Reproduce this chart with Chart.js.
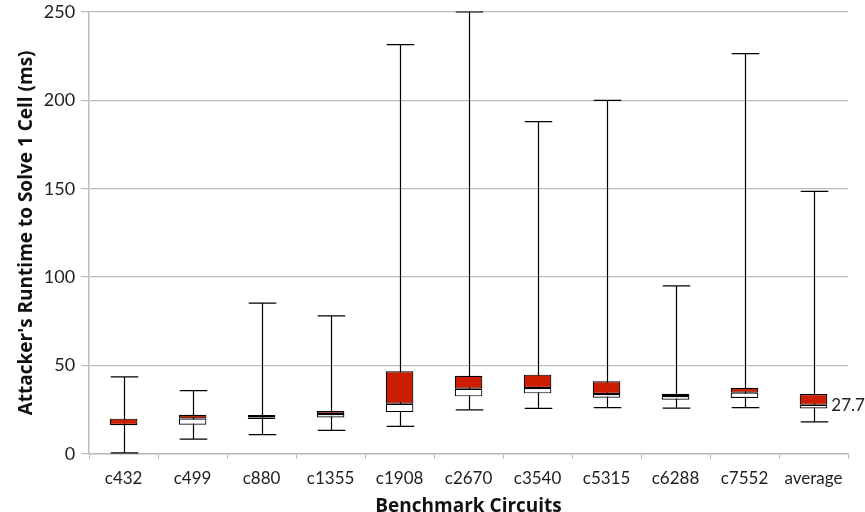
<!DOCTYPE html>
<html>
<head>
<meta charset="utf-8">
<script src="https://cdn.jsdelivr.net/npm/chart.js@4/dist/chart.umd.min.js"></script>
<style>
    body { margin: 0; background: #fff; }
    #wrap { width: 865px; height: 512px; }
</style>
</head>
<body>
<div id="wrap"><canvas id="chart"></canvas></div>
<script>
"use strict"

const circuits = ['c432', 'c499', 'c880', 'c1355', 'c1908', 'c2670', 'c3540', 'c5315', 'c6288', 'c7552', 'average']
const minVals = [0.5, 8.3, 10.8, 13.2, 15.5, 24.9, 25.7, 26.1, 25.9, 26.1, 18.1]
const q1Vals = [16.2, 16.4, 19.7, 20.6, 23.6, 32.5, 34.2, 31.7, 30.6, 31.6, 25.7]
const medianVals = [16.3, 20.0, 20.6, 22.5, 28.3, 36.8, 37.2, 33.8, 32.7, 34.6, 27.7]
const q3Vals = [19.9, 22.1, 21.9, 24.2, 46.7, 44.2, 44.8, 41.0, 34.0, 37.4, 33.8]
const maxVals = [43.5, 35.7, 85.3, 78.0, 231.5, 250, 188, 200, 95, 226.5, 148.5]
const averageLabel = '27.7'

const FONT = 'Lato, "Open Sans", sans-serif'
const TITLE_FONT = '"Open Sans", sans-serif'

const lowerBox = circuits.map((c, i) => [q1Vals[i], medianVals[i]])
const upperBox = circuits.map((c, i) => [medianVals[i], q3Vals[i]])

// whiskers (min..max) under the boxes, plus the value next to "average"
const whiskers = {
    id: 'whiskers',
    beforeDatasetsDraw(chart) {
        const ctx = chart.ctx
        const y = chart.scales.y
        const bars = chart.getDatasetMeta(0).data
        ctx.save()
        ctx.strokeStyle = '#000'
        ctx.lineWidth = 1.2
        bars.forEach((bar, i) => {
            const x = Math.round(bar.x) + 0.5
            const half = bar.width / 2
            const yMin = y.getPixelForValue(minVals[i])
            const yMax = y.getPixelForValue(maxVals[i])
            ctx.beginPath()
            ctx.moveTo(x, yMin)
            ctx.lineTo(x, yMax)
            ctx.moveTo(x - half, yMin)
            ctx.lineTo(x + half, yMin)
            ctx.moveTo(x - half, yMax)
            ctx.lineTo(x + half, yMax)
            ctx.stroke()
        })
        ctx.restore()
    },
    afterDatasetsDraw(chart) {
        const ctx = chart.ctx
        const y = chart.scales.y
        const bars = chart.getDatasetMeta(0).data
        const last = bars.length - 1
        const bar = bars[last]
        ctx.save()
        ctx.fillStyle = '#222'
        ctx.font = '17px ' + FONT
        ctx.textBaseline = 'middle'
        ctx.textAlign = 'left'
        ctx.fillText(averageLabel, bar.x + bar.width / 2 + 4, y.getPixelForValue(medianVals[last]) + 1)
        ctx.restore()
    }
}

new Chart(document.getElementById('chart'), {
    type: 'bar',
    data: {
        labels: circuits,
        datasets: [{
            label: 'Q1-median',
            data: lowerBox,
            backgroundColor: '#ffffff',
            borderColor: '#000',
            borderWidth: 1.2,
            borderSkipped: false,
            grouped: false,
            barPercentage: 0.4,
            categoryPercentage: 1
        }, {
            label: 'median-Q3',
            data: upperBox,
            backgroundColor: '#cc1d00',
            borderColor: '#000',
            borderWidth: 1.2,
            borderSkipped: false,
            grouped: false,
            barPercentage: 0.4,
            categoryPercentage: 1
        }]
    },
    options: {
        responsive: true,
        maintainAspectRatio: false,
        animation: false,
        layout: { padding: { top: 12, right: 17, bottom: -6, left: 15 } },
        plugins: {
            legend: { display: false },
            tooltip: { enabled: false }
        },
        scales: {
            x: {
                grid: {
                    offset: true,
                    drawOnChartArea: false,
                    color: '#bbb',
                    tickLength: 5
                },
                border: { color: '#bbb', width: 1.5 },
                ticks: {
                    color: '#222',
                    font: { family: FONT, size: 17 },
                    padding: 10
                },
                title: {
                    display: true,
                    text: 'Benchmark Circuits',
                    color: '#111',
                    font: { family: TITLE_FONT, size: 19, weight: 'bold' },
                    padding: { top: -4, bottom: 0 }
                }
            },
            y: {
                min: 0,
                max: 250,
                afterFit: (scale) => { scale.paddingTop = 0 },
                ticks: {
                    stepSize: 50,
                    color: '#222',
                    font: { family: FONT, size: 18 },
                    padding: 6
                },
                grid: {
                    color: '#bbb',
                    lineWidth: 1.2,
                    tickLength: 8
                },
                border: { color: '#bbb', width: 1.5 },
                title: {
                    display: true,
                    text: "Attacker's Runtime to Solve 1 Cell (ms)",
                    color: '#111',
                    font: { family: TITLE_FONT, size: 19, weight: 'bold' },
                    padding: { top: 0, bottom: 0 }
                }
            }
        }
    },
    plugins: [whiskers]
})
</script>
</body>
</html>
